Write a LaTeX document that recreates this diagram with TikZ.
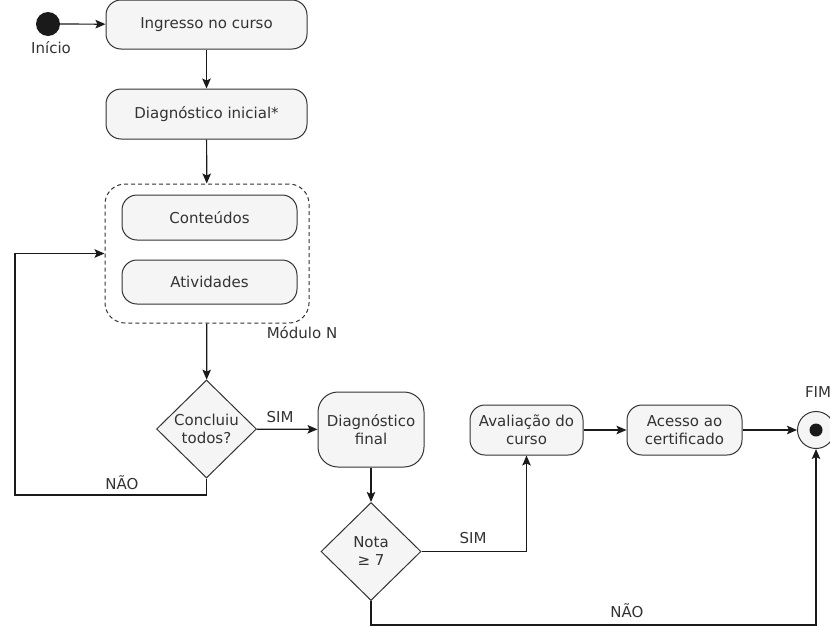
\documentclass[tikz,border=0pt]{standalone}
\usepackage{fontspec}
\setmainfont{DejaVu Sans}
\usetikzlibrary{shapes.geometric,arrows.meta}
\definecolor{boxfill}{HTML}{F5F5F5}
\definecolor{ink}{HTML}{333333}
\definecolor{wire}{HTML}{1A1A1A}
\begin{document}
\begin{tikzpicture}[x=1pt,y=-1pt,
  font=\fontsize{15}{18}\selectfont,
  every node/.style={text=ink},
  stepbox/.style={draw=ink, line width=1pt, fill=boxfill, rounded corners=15pt,
                  align=center, inner sep=0pt},
  decision/.style={draw=ink, line width=1pt, fill=boxfill, diamond, inner sep=0pt},
  group/.style={draw=ink, line width=1pt, dash pattern=on 4pt off 3pt,
                rounded corners=20pt, inner sep=0pt},
  flow/.style={draw=wire, line width=1.2pt,
               -{Stealth[length=10pt,width=8.5pt,inset=2pt]}},
  lbl/.style={inner sep=0pt, align=center}]

\useasboundingbox (0,0) rectangle (830,627);

% start and first steps
\node[circle, fill=wire, minimum size=24pt, inner sep=0pt] (start) at (48,24) {};
\node[lbl] (startlbl) at (51,48) {Início};
\node[stepbox, minimum width=201pt, minimum height=49pt] (ing) at (206.5,24.5) {Ingresso no curso};
\node[stepbox, minimum width=201pt, minimum height=50pt] (diag) at (206.5,114) {Diagnóstico inicial*};

% module group
\node[group, minimum width=204pt, minimum height=139pt] (mod) at (207,253.5) {};
\node[stepbox, minimum width=175pt, minimum height=45pt] (cont) at (209.5,217.5) {Conteúdos};
\node[stepbox, minimum width=175pt, minimum height=44pt] (ativ) at (209.5,282) {Atividades};
\node[lbl] (modlbl) at (302,333) {Módulo N};

% first decision
\node[decision, minimum width=100pt, minimum height=98pt] (q1) at (206.5,429) {};
\node[lbl] (q1txt) at (q1) {Concluiu\\todos?};

\node[stepbox, rounded corners=20pt, minimum width=106pt, minimum height=75pt] (dfin) at (371,429.5) {Diagnóstico\\final};

% second decision
\node[decision, minimum width=100pt, minimum height=98pt] (q2) at (371,551.5) {};
\node[lbl] (q2txt) at (q2) {Nota\\≥ 7};

\node[stepbox, minimum width=113pt, minimum height=50pt] (aval) at (526.5,430) {Avaliação do\\curso};
\node[stepbox, minimum width=115pt, minimum height=50pt] (acesso) at (684.5,430) {Acesso ao\\certificado};

% end state
\node[circle, draw=ink, line width=1pt, fill=boxfill, minimum size=37pt, inner sep=0pt] (fim) at (816,430) {};
\node[circle, fill=wire, minimum size=13pt, inner sep=0pt] (fimdot) at (fim) {};
\node[lbl] (fimlbl) at (818,392) {FIM};

% bend points
\coordinate (loopcorner) at (15,495);
\coordinate (nobase) at (371,625);

% connectors
\draw[flow] (start) -- (ing);
\draw[flow] (ing) -- (diag);
\draw[flow] (diag) -- (mod);
\draw[flow] (mod) -- (q1);
\draw[flow] (q1) -- (dfin);
\draw[flow] (q1.south) |- (loopcorner) |- (mod.west);
\draw[flow] (dfin) -- (q2);
\draw[flow] (q2.east) -| (aval.south);
\draw[flow] (aval) -- (acesso);
\draw[flow] (acesso) -- (fim);
\draw[flow] (q2.south) -- (nobase) -| (fim.south);

% branch labels
\node[lbl] (sim1) at (280,417) {SIM};
\node[lbl] (nao1) at (122,483) {NÃO};
\node[lbl] (sim2) at (473,538) {SIM};
\node[lbl] (nao2) at (627,611) {NÃO};
\end{tikzpicture}
\end{document}
